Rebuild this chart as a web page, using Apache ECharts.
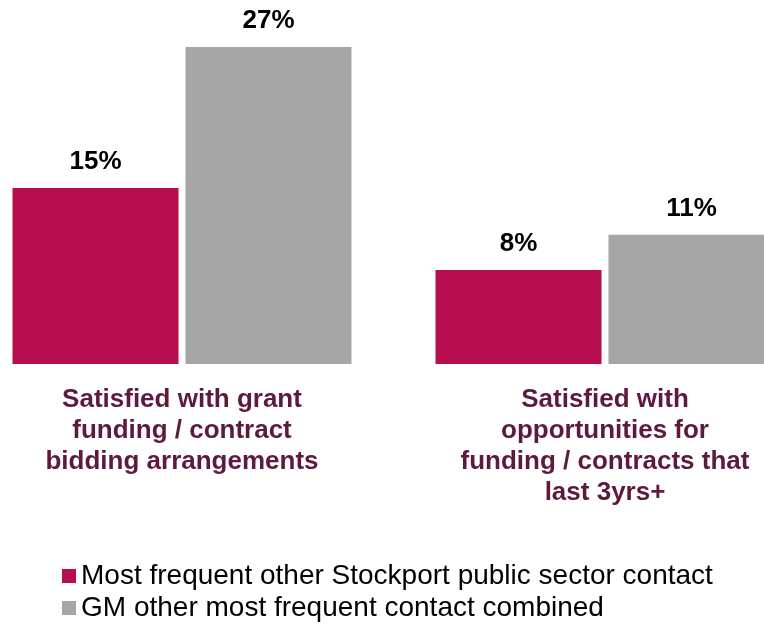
<!DOCTYPE html>
<html>
<head>
<meta charset="utf-8">
<script src="https://cdn.jsdelivr.net/npm/echarts@6/dist/echarts.min.js"></script>
<style>html,body{margin:0;padding:0;background:#fff;}#c{width:764px;height:628px;}</style>
</head>
<body>
<div id="c"></div>
<script>
var categories = [
  'Satisfied with grant\nfunding / contract\nbidding arrangements',
  'Satisfied with\nopportunities for\nfunding / contracts that\nlast 3yrs+'
];
var seriesNames = ['Most frequent other Stockport public sector contact', 'GM other most frequent contact combined'];
var stockportValues = [15, 8];
var gmValues = [27, 11];

var chart = echarts.init(document.getElementById('c'), null, {renderer: 'canvas'});
var labelStyle = {
  show: true, position: 'top', distance: 13,
  formatter: '{c}%', fontFamily: 'Liberation Sans, Arial, sans-serif',
  fontSize: 26, fontWeight: 'bold', color: '#000'
};
chart.setOption({
  animation: false,
  backgroundColor: '#fff',
  grid: {left: -29.5, width: 846, top: 47, height: 317, containLabel: false, outerBoundsMode: 'none'},
  legend: {
    orient: 'vertical', left: 62, top: 562, height: 66, padding: 0,
    itemWidth: 14, itemHeight: 14, itemGap: 4,
    icon: 'rect',
    textStyle: {fontFamily: 'Liberation Sans, Arial, sans-serif', fontSize: 28, lineHeight: 28, color: '#000'},
    data: seriesNames
  },
  xAxis: {
    type: 'category', data: categories,
    axisLine: {show: false}, axisTick: {show: false},
    axisLabel: {
      interval: 0, margin: 20, fontFamily: 'Liberation Sans, Arial, sans-serif',
      fontSize: 26, fontWeight: 'bold', color: '#5e1a3e', lineHeight: 31, align: 'center'
    }
  },
  yAxis: {type: 'value', min: 0, max: 27, show: false, splitLine: {show: false}},
  series: [
    {name: seriesNames[0], type: 'bar', data: stockportValues, barWidth: 166, barGap: '4.2%',
     itemStyle: {color: '#b50d4d'}, label: labelStyle},
    {name: seriesNames[1], type: 'bar', data: gmValues, barWidth: 166,
     itemStyle: {color: '#a6a6a6'}, label: labelStyle}
  ]
});
</script>
</body>
</html>
